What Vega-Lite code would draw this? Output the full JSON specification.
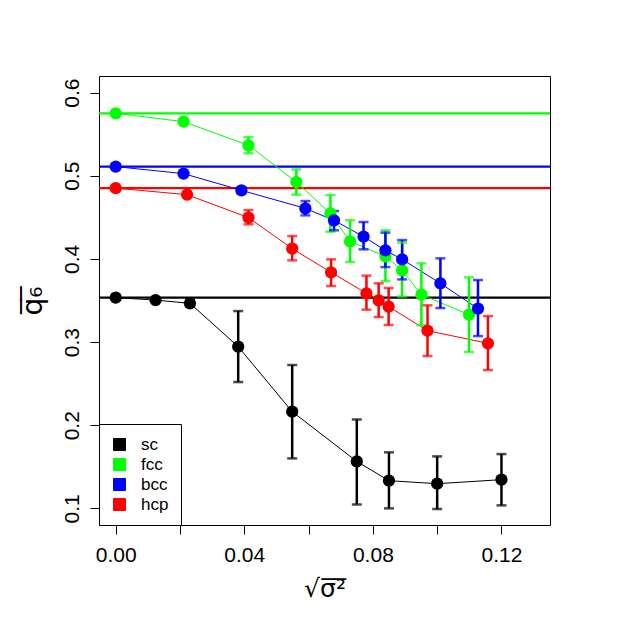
{
  "$schema": "https://vega.github.io/schema/vega-lite/v6.json",
  "width": 451,
  "height": 449,
  "autosize": {"type": "none"},
  "padding": {"left": 99, "top": 76, "right": 77, "bottom": 101},
  "background": "white",
  "data": {"values": [
    {"s": "sc", "x": 0.0, "y": 0.3534, "lo": 0.3534, "hi": 0.3534},
    {"s": "sc", "x": 0.0124, "y": 0.3505, "lo": 0.3505, "hi": 0.3505},
    {"s": "sc", "x": 0.0231, "y": 0.3466, "lo": 0.3430, "hi": 0.3510},
    {"s": "sc", "x": 0.0381, "y": 0.2945, "lo": 0.2519, "hi": 0.3373},
    {"s": "sc", "x": 0.0549, "y": 0.2163, "lo": 0.1601, "hi": 0.2724},
    {"s": "sc", "x": 0.0750, "y": 0.1565, "lo": 0.1048, "hi": 0.2070},
    {"s": "sc", "x": 0.0850, "y": 0.1333, "lo": 0.1000, "hi": 0.1674},
    {"s": "sc", "x": 0.1000, "y": 0.1297, "lo": 0.0992, "hi": 0.1625},
    {"s": "sc", "x": 0.1200, "y": 0.1345, "lo": 0.1036, "hi": 0.1653},
    {"s": "fcc", "x": 0.0, "y": 0.5751, "lo": 0.5751, "hi": 0.5751},
    {"s": "fcc", "x": 0.0211, "y": 0.5651, "lo": 0.5651, "hi": 0.5651},
    {"s": "fcc", "x": 0.0413, "y": 0.5366, "lo": 0.5270, "hi": 0.5466},
    {"s": "fcc", "x": 0.0562, "y": 0.4925, "lo": 0.4773, "hi": 0.5077},
    {"s": "fcc", "x": 0.0668, "y": 0.4548, "lo": 0.4328, "hi": 0.4768},
    {"s": "fcc", "x": 0.0729, "y": 0.4211, "lo": 0.3962, "hi": 0.4464},
    {"s": "fcc", "x": 0.0839, "y": 0.4031, "lo": 0.3734, "hi": 0.4344},
    {"s": "fcc", "x": 0.0891, "y": 0.3863, "lo": 0.3546, "hi": 0.4196},
    {"s": "fcc", "x": 0.0951, "y": 0.3570, "lo": 0.3205, "hi": 0.3947},
    {"s": "fcc", "x": 0.1099, "y": 0.3330, "lo": 0.2880, "hi": 0.3778},
    {"s": "bcc", "x": 0.0, "y": 0.5110, "lo": 0.5110, "hi": 0.5110},
    {"s": "bcc", "x": 0.0211, "y": 0.5026, "lo": 0.5026, "hi": 0.5026},
    {"s": "bcc", "x": 0.0391, "y": 0.4825, "lo": 0.4790, "hi": 0.4860},
    {"s": "bcc", "x": 0.0590, "y": 0.4608, "lo": 0.4524, "hi": 0.4696},
    {"s": "bcc", "x": 0.0679, "y": 0.4464, "lo": 0.4344, "hi": 0.4576},
    {"s": "bcc", "x": 0.0771, "y": 0.4268, "lo": 0.4115, "hi": 0.4444},
    {"s": "bcc", "x": 0.0839, "y": 0.4103, "lo": 0.3902, "hi": 0.4316},
    {"s": "bcc", "x": 0.0891, "y": 0.3995, "lo": 0.3754, "hi": 0.4227},
    {"s": "bcc", "x": 0.1010, "y": 0.3706, "lo": 0.3409, "hi": 0.4007},
    {"s": "bcc", "x": 0.1127, "y": 0.3402, "lo": 0.3072, "hi": 0.3746},
    {"s": "hcp", "x": 0.0, "y": 0.4851, "lo": 0.4851, "hi": 0.4851},
    {"s": "hcp", "x": 0.0222, "y": 0.4773, "lo": 0.4773, "hi": 0.4773},
    {"s": "hcp", "x": 0.0413, "y": 0.4497, "lo": 0.4416, "hi": 0.4588},
    {"s": "hcp", "x": 0.0549, "y": 0.4124, "lo": 0.3983, "hi": 0.4275},
    {"s": "hcp", "x": 0.0670, "y": 0.3839, "lo": 0.3674, "hi": 0.3995},
    {"s": "hcp", "x": 0.0780, "y": 0.3586, "lo": 0.3390, "hi": 0.3799},
    {"s": "hcp", "x": 0.0818, "y": 0.3502, "lo": 0.3301, "hi": 0.3706},
    {"s": "hcp", "x": 0.0849, "y": 0.3426, "lo": 0.3205, "hi": 0.3650},
    {"s": "hcp", "x": 0.0970, "y": 0.3137, "lo": 0.2832, "hi": 0.3442},
    {"s": "hcp", "x": 0.1158, "y": 0.2985, "lo": 0.2663, "hi": 0.3313}
  ]},
  "encoding": {
    "x": {"field": "x", "type": "quantitative",
      "scale": {"domain": [-0.0052, 0.1351], "nice": false, "zero": false},
      "axis": {"values": [0, 0.02, 0.04, 0.06, 0.08, 0.1, 0.12], "format": ".2f",
        "labelExpr": "indexof(['0.00','0.04','0.08','0.12'], datum.label) >= 0 ? datum.label : ''",
        "labelPadding": 10, "labelFlush": false, "labelOverlap": false,
        "title": "√σ̅²̅", "titleFont": "DejaVu Sans", "titleFontSize": 25, "titlePadding": 11}},
    "color": {"field": "s", "type": "nominal",
      "scale": {"domain": ["sc", "fcc", "bcc", "hcp"], "range": ["#000000", "#00ff00", "#0000ff", "#ff0000"]},
      "legend": {"title": null, "orient": "bottom-left", "offset": 0, "padding": 12,
        "strokeColor": "black", "fillColor": "white", "symbolType": "square", "symbolSize": 144,
        "symbolStrokeColor": "black", "symbolStrokeWidth": 1, "symbolOpacity": 1,
        "labelFontSize": 17, "labelOffset": 13, "rowPadding": 2, "labelColor": "black"}}
  },
  "layer": [
    {"transform": [{"filter": "datum.x == 0"}],
     "mark": {"type": "rule", "strokeWidth": 2.2},
     "encoding": {"x": null, "y": {"field": "y", "type": "quantitative",
        "scale": {"domain": [0.08, 0.62], "nice": false, "zero": false},
        "axis": {"values": [0.1, 0.2, 0.3, 0.4, 0.5, 0.6], "format": ".1f",
          "labelAngle": -90, "labelAlign": "center", "labelBaseline": "bottom", "labelPadding": 8,
          "title": "q̅₆̅", "titleFont": "DejaVu Sans", "titleFontSize": 28, "titlePadding": 14}}}},
    {"mark": {"type": "line", "strokeWidth": 1},
     "encoding": {"y": {"field": "y", "type": "quantitative"}, "order": {"field": "x"}}},
    {"mark": {"type": "rule", "strokeWidth": 2.5},
     "encoding": {"y": {"field": "lo", "type": "quantitative"}, "y2": {"field": "hi"}}},
    {"mark": {"type": "tick", "orient": "horizontal", "size": 10, "thickness": 2.5},
     "encoding": {"y": {"field": "lo", "type": "quantitative"}}},
    {"mark": {"type": "tick", "orient": "horizontal", "size": 10, "thickness": 2.5},
     "encoding": {"y": {"field": "hi", "type": "quantitative"}}},
    {"mark": {"type": "point", "shape": "circle", "filled": true, "opacity": 1, "size": 150},
     "encoding": {"y": {"field": "y", "type": "quantitative"}}}
  ],
  "config": {
    "font": "Liberation Sans",
    "view": {"stroke": "black", "strokeWidth": 1},
    "axis": {"domain": false, "grid": false, "tickColor": "black", "tickSize": 9, "tickWidth": 1,
      "labelColor": "black", "labelFontSize": 21, "titleColor": "black", "titleFontWeight": "normal"}
  }
}
